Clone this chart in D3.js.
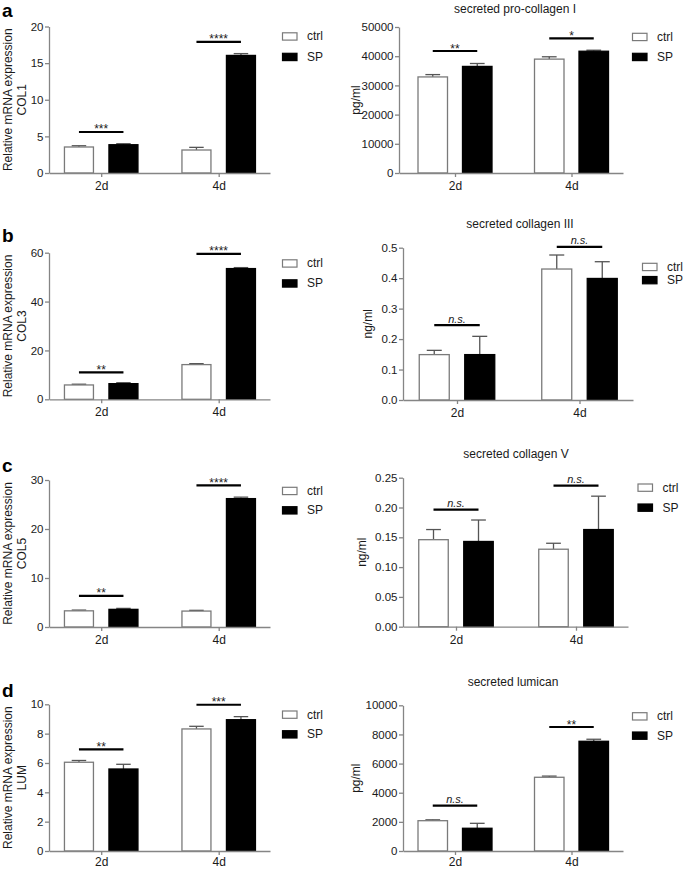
<!DOCTYPE html>
<html>
<head>
<meta charset="utf-8">
<script src="https://cdn.jsdelivr.net/npm/d3@7"></script>
<style>
  html, body { margin: 0; padding: 0; background: #fff; }
  svg { display: block; font-family: "Liberation Sans", Arial, sans-serif; }
</style>
</head>
<body>
<svg id="chart" width="685" height="869"></svg>
<script>
// ---------- DATA ----------
const days = ["2d", "4d"];
const groups = ["ctrl", "SP"];

// a: COL1 mRNA
const col1Ctrl = [3.55, 3.14];
const col1CtrlErr = [0.17, 0.36];
const col1SP = [3.86, 16.05];
const col1SPErr = [0.14, 0.25];
const col1Sig = ["***", "****"];
const col1SigY = [5.6, 17.9];
const col1Ticks = [0, 5, 10, 15, 20];

// a: secreted pro-collagen I
const procolCtrl = [32900, 39000];
const procolCtrlErr = [800, 800];
const procolSP = [36500, 41700];
const procolSPErr = [1000, 350];
const procolSig = ["**", "*"];
const procolSigY = [41780, 46130];
const procolTicks = [0, 10000, 20000, 30000, 40000, 50000];

// b: COL3 mRNA
const col3Ctrl = [5.87, 14.2];
const col3CtrlErr = [0.3, 0.4];
const col3SP = [6.4, 53.5];
const col3SPErr = [0.4, 0.4];
const col3Sig = ["**", "****"];
const col3SigY = [11.05, 59.5];
const col3Ticks = [0, 20, 40, 60];

// b: secreted collagen III
const colIIICtrl = [0.149, 0.43];
const colIIICtrlErr = [0.014, 0.046];
const colIIISP = [0.149, 0.399];
const colIIISPErr = [0.06, 0.055];
const colIIISig = ["n.s.", "n.s."];
const colIIISigY = [0.2457, 0.503];
const colIIITicks = [0, 0.1, 0.2, 0.3, 0.4, 0.5];

// c: COL5 mRNA
const col5Ctrl = [3.3, 3.25];
const col5CtrlErr = [0.15, 0.15];
const col5SP = [3.6, 26.2];
const col5SPErr = [0.2, 0.3];
const col5Sig = ["**", "****"];
const col5SigY = [6.36, 28.9];
const col5Ticks = [0, 10, 20, 30];

// c: secreted collagen V
const colVCtrl = [0.146, 0.130];
const colVCtrlErr = [0.017, 0.010];
const colVSP = [0.143, 0.163];
const colVSPErr = [0.036, 0.056];
const colVSig = ["n.s.", "n.s."];
const colVSigY = [0.1963, 0.2366];
const colVTicks = [0, 0.05, 0.10, 0.15, 0.20, 0.25];

// d: LUM mRNA
const lumCtrl = [6.05, 8.32];
const lumCtrlErr = [0.12, 0.18];
const lumSP = [5.59, 8.95];
const lumSPErr = [0.32, 0.21];
const lumSig = ["**", "***"];
const lumSigY = [6.93, 9.97];
const lumTicks = [0, 2, 4, 6, 8, 10];

// d: secreted lumican
const lumicanCtrl = [2080, 5060];
const lumicanCtrlErr = [60, 80];
const lumicanSP = [1560, 7530];
const lumicanSPErr = [340, 140];
const lumicanSig = ["n.s.", "**"];
const lumicanSigY = [3109, 8510];
const lumicanTicks = [0, 2000, 4000, 6000, 8000, 10000];

// ---------- DRAW ----------
const svg = d3.select("#chart");
const AXIS = "#858585";
const TXT = "#1a1a1a";

function panel(o) {
  const g = svg.append("g");
  const W = o.x1 - o.x0;
  const step = o.c2 - o.c1;
  const pad = (W / step - 1) / 2;
  const align = (o.c1 - o.x0) / (W - step);
  const x = d3.scalePoint().domain(days).range([o.x0, o.x1]).padding(pad).align(align);
  const inner = d3.scaleBand().domain(groups)
    .range([-(o.off + o.bw) / 2, (o.off + o.bw) / 2])
    .paddingInner(1 - o.bw / o.off).paddingOuter(0);
  const y = d3.scaleLinear().domain([0, d3.max(o.ticks)]).range([o.yb, o.yt]);

  const rows = [];
  days.forEach((d, i) => {
    rows.push({ day: d, grp: "ctrl", v: o.ctrl[i], e: o.ctrlErr[i] });
    rows.push({ day: d, grp: "SP", v: o.sp[i], e: o.spErr[i] });
  });

  // error bars (upward only)
  const eg = g.append("g");
  rows.forEach(r => {
    const cx = x(r.day) + inner(r.grp) + inner.bandwidth() / 2;
    eg.append("line").attr("x1", cx).attr("x2", cx)
      .attr("y1", y(r.v)).attr("y2", y(r.v + r.e))
      .attr("stroke", "#555").attr("stroke-width", 1.3);
    eg.append("line").attr("x1", cx - inner.bandwidth() / 4).attr("x2", cx + inner.bandwidth() / 4)
      .attr("y1", y(r.v + r.e)).attr("y2", y(r.v + r.e))
      .attr("stroke", "#555").attr("stroke-width", 1.3);
  });

  // bars
  g.append("g").selectAll("rect").data(rows).join("rect")
    .attr("x", r => x(r.day) + inner(r.grp))
    .attr("width", inner.bandwidth())
    .attr("y", r => y(r.v))
    .attr("height", r => y(0) - y(r.v))
    .attr("fill", r => r.grp === "ctrl" ? "#fff" : "#000")
    .attr("stroke", r => r.grp === "ctrl" ? "#7a7a7a" : "#000")
    .attr("stroke-width", 1.3);

  // axes
  const ya = g.append("g").attr("transform", `translate(${o.x0},0)`)
    .call(d3.axisLeft(y).tickValues(o.ticks).tickFormat(d3.format(o.fmt))
      .tickSize(4).tickPadding(1.5).tickSizeOuter(0));
  const xa = g.append("g").attr("transform", `translate(0,${o.yb})`)
    .call(d3.axisBottom(x).tickSize(4).tickPadding(o.xpad || 4.5).tickSizeOuter(0));
  [ya, xa].forEach(a => {
    a.selectAll("path, line").attr("stroke", AXIS).attr("stroke-width", 1.3);
    a.selectAll("text").attr("fill", TXT).style("font-family", '"Liberation Sans", Arial, sans-serif');
  });
  ya.selectAll("text").style("font-size", "11.5px");
  xa.selectAll("text").style("font-size", "12px");

  // significance bars
  days.forEach((d, i) => {
    const xa1 = x(d) + inner("ctrl") + inner.bandwidth() / 2;
    const xa2 = x(d) + inner("SP") + inner.bandwidth() / 2;
    const yy = y(o.sigY[i]);
    g.append("line").attr("x1", xa1).attr("x2", xa2).attr("y1", yy).attr("y2", yy)
      .attr("stroke", "#000").attr("stroke-width", 2.2);
    const ns = o.sig[i] === "n.s.";
    g.append("text").attr("x", (xa1 + xa2) / 2).attr("y", ns ? yy - 2.5 : yy + 1.5)
      .attr("text-anchor", "middle").attr("fill", TXT)
      .style("font-size", ns ? "11px" : "12px")
      .style("font-style", ns ? "italic" : "normal")
      .text(o.sig[i]);
  });

  // legend
  groups.forEach((gr, i) => {
    const ly = o.legY[i];
    g.append("rect").attr("x", o.legX).attr("y", ly).attr("width", 14.5).attr("height", 7.3)
      .attr("fill", gr === "ctrl" ? "#fff" : "#000")
      .attr("stroke", gr === "ctrl" ? "#7a7a7a" : "#000").attr("stroke-width", 1.2);
    g.append("text").attr("x", o.legX + 24.5).attr("y", ly + 7.6)
      .attr("fill", TXT).style("font-size", "12px").text(gr);
  });

  // y title
  const cy = (o.yt + o.yb) / 2;
  o.ylab.forEach((t, i) => {
    g.append("text").attr("transform", `translate(${o.ylabX[i]},${cy}) rotate(-90)`)
      .attr("text-anchor", "middle").attr("fill", TXT).style("font-size", "12px").text(t);
  });

  // chart title
  if (o.title) {
    g.append("text").attr("x", o.titleX).attr("y", o.titleY).attr("text-anchor", "middle")
      .attr("fill", TXT).style("font-size", "12px").text(o.title);
  }
  // panel letter
  if (o.letter) {
    g.append("text").attr("x", 2).attr("y", o.letterY).attr("fill", "#000")
      .style("font-size", "19px").style("font-weight", "bold").text(o.letter);
  }
}

const leftX = { x0: 49, x1: 270, c1: 101.2, c2: 218.7, bw: 29, off: 44.5, legX: 282.5, ylabX: [12, 25.5] };

// a
panel(Object.assign({}, leftX, {
  yt: 26.5, yb: 173, ticks: col1Ticks, fmt: "d",
  ctrl: col1Ctrl, ctrlErr: col1CtrlErr, sp: col1SP, spErr: col1SPErr,
  sig: col1Sig, sigY: col1SigY, legY: [32.8, 53.3],
  ylab: ["Relative mRNA expression", "COL1"], letter: "a", letterY: 17.3
}));
panel({
  x0: 399, x1: 623, c1: 455, c2: 571.5, bw: 29.5, off: 44.5, legX: 632.5,
  yt: 27, yb: 173, ticks: procolTicks, fmt: "d",
  ctrl: procolCtrl, ctrlErr: procolCtrlErr, sp: procolSP, spErr: procolSPErr,
  sig: procolSig, sigY: procolSigY, legY: [33.3, 53.3],
  ylab: ["pg/ml"], ylabX: [360], title: "secreted pro-collagen I", titleX: 515, titleY: 12.5
});

// b
panel(Object.assign({}, leftX, {
  yt: 252.7, yb: 399.3, ticks: col3Ticks, fmt: "d",
  ctrl: col3Ctrl, ctrlErr: col3CtrlErr, sp: col3SP, spErr: col3SPErr,
  sig: col3Sig, sigY: col3SigY, legY: [259.8, 279.8],
  ylab: ["Relative mRNA expression", "COL3"], letter: "b", letterY: 241.5
}));
panel({
  x0: 403, x1: 633, c1: 457, c2: 579.5, bw: 30, off: 45.5, legX: 642.5,
  yt: 247.7, yb: 400, ticks: colIIITicks, fmt: ".1f",
  ctrl: colIIICtrl, ctrlErr: colIIICtrlErr, sp: colIIISP, spErr: colIIISPErr,
  sig: colIIISig, sigY: colIIISigY, legY: [263.3, 276.5],
  ylab: ["ng/ml"], ylabX: [372], title: "secreted collagen III", titleX: 520, titleY: 227.5
});

// c
panel(Object.assign({}, leftX, {
  yt: 480, yb: 627, ticks: col5Ticks, fmt: "d",
  ctrl: col5Ctrl, ctrlErr: col5CtrlErr, sp: col5SP, spErr: col5SPErr,
  sig: col5Sig, sigY: col5SigY, legY: [487.3, 506.7],
  ylab: ["Relative mRNA expression", "COL5"], letter: "c", letterY: 471.5
}));
panel({
  x0: 403, x1: 628, c1: 456, c2: 576, bw: 29.5, off: 45, legX: 638,
  yt: 477.7, yb: 626.7, ticks: colVTicks, fmt: ".2f",
  ctrl: colVCtrl, ctrlErr: colVCtrlErr, sp: colVSP, spErr: colVSPErr,
  sig: colVSig, sigY: colVSigY, legY: [484, 504],
  ylab: ["ng/ml"], ylabX: [366], title: "secreted collagen V", titleX: 516, titleY: 457.5
});

// d
panel(Object.assign({}, leftX, {
  yt: 704.3, yb: 851, ticks: lumTicks, fmt: "d", xpad: 2.5,
  ctrl: lumCtrl, ctrlErr: lumCtrlErr, sp: lumSP, spErr: lumSPErr,
  sig: lumSig, sigY: lumSigY, legY: [711, 730.7],
  ylab: ["Relative mRNA expression", "LUM"], letter: "d", letterY: 696.5
}));
panel({
  x0: 403, x1: 623, c1: 455, c2: 571.5, bw: 29.5, off: 44.5, legX: 632.5,
  yt: 705.3, yb: 851, ticks: lumicanTicks, fmt: "d", xpad: 2.5,
  ctrl: lumicanCtrl, ctrlErr: lumicanCtrlErr, sp: lumicanSP, spErr: lumicanSPErr,
  sig: lumicanSig, sigY: lumicanSigY, legY: [712.7, 732],
  ylab: ["pg/ml"], ylabX: [360], title: "secreted lumican", titleX: 513, titleY: 685.5
});
</script>
</body>
</html>
